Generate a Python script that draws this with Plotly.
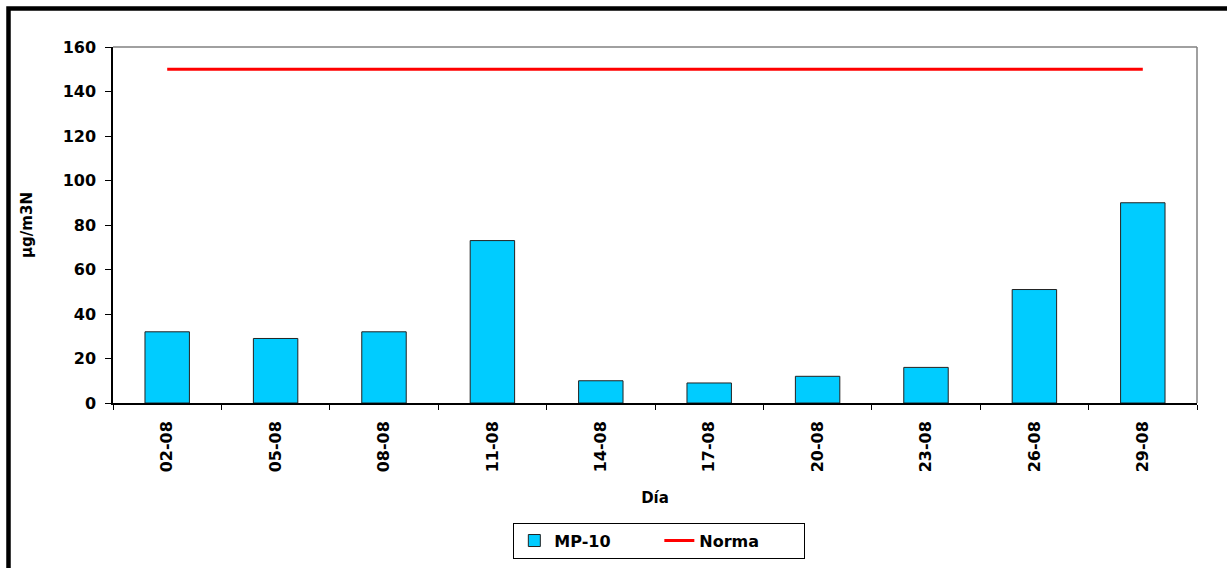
import plotly.graph_objects as go

dias = ["02-08", "05-08", "08-08", "11-08", "14-08", "17-08", "20-08", "23-08", "26-08", "29-08"]
mp10 = [32, 29, 32, 73, 10, 9, 12, 16, 51, 90]
norma = [150, 150, 150, 150, 150, 150, 150, 150, 150, 150]

FONT = dict(family="DejaVu Sans", size=16, color="black", weight="bold")

fig = go.Figure()
fig.add_trace(go.Bar(
    x=dias, y=mp10, name="MP-10",
    marker=dict(color="#00CCFF", line=dict(color="#222222", width=1)),
))
fig.add_trace(go.Scatter(
    x=dias, y=norma, name="Norma", mode="lines",
    line=dict(color="#FF0000", width=3),
))

fig.update_layout(
    width=1227, height=568,
    margin=dict(l=113, r=30, t=47, b=165, autoexpand=False),
    paper_bgcolor="white", plot_bgcolor="white",
    font=FONT,
    bargap=0.59,
    showlegend=True,
    legend=dict(
        orientation="h", x=0.504, y=-0.336, xanchor="center", yanchor="top",
        bordercolor="black", borderwidth=1,
        font=dict(family="DejaVu Sans", size=16, color="black", weight="bold"),
        itemwidth=30, tracegroupgap=0,
        entrywidth=100, entrywidthmode="pixels",
    ),
    xaxis=dict(
        type="category", tickangle=-90, showline=True, linecolor="black", linewidth=1.5,
        ticks="outside", ticklen=5, tickcolor="black", tickson="boundaries",
        showgrid=False, zeroline=False, tickfont=FONT, automargin=False,
        ticklabelstandoff=10,
        title=dict(text="Día", font=dict(family="DejaVu Sans", size=15, color="black", weight="bold"), standoff=21),
    ),
    yaxis=dict(
        range=[0, 160], dtick=20, showline=True, linecolor="black", linewidth=1.5,
        ticks="outside", ticklen=6, tickcolor="black", showgrid=False, zeroline=False,
        tickfont=FONT, ticklabelstandoff=6, automargin=False,
        title=dict(text="µg/m3N", font=dict(family="DejaVu Sans", size=15, color="black", weight="bold"), standoff=26),
    ),
    shapes=[
        dict(type="line", xref="x domain", yref="y domain", x0=0, x1=1, y0=1, y1=1,
             line=dict(color="#808080", width=1.5)),
        dict(type="line", xref="x domain", yref="y domain", x0=1, x1=1, y0=0, y1=1,
             line=dict(color="#808080", width=1.5)),
        dict(type="rect", xref="paper", yref="paper",
             x0=(8.5 - 113) / 1084, x1=2, y0=-2, y1=1 + (47 - 8.5) / 356,
             line=dict(color="black", width=4.5)),
    ],
)

fig.write_html("out.html")
